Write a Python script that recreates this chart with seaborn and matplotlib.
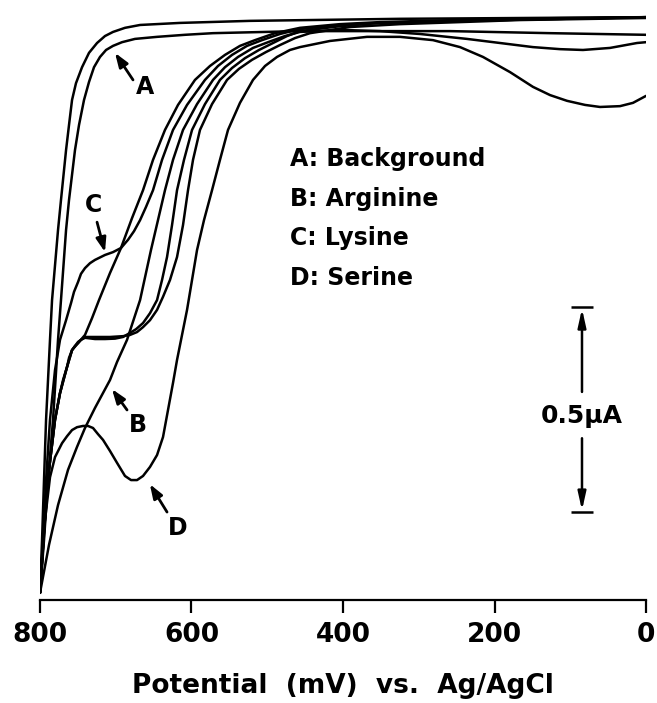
import numpy as np
import pandas as pd
import matplotlib
matplotlib.use("Agg")
import matplotlib.pyplot as plt
import seaborn as sns

# ---------------- data (potential in mV, current in uA; anodic current plotted downward) -------------
# A: Background
a_fwd_mv = [0, 126.7, 258.7, 456.8, 571.6, 608.6, 645.5, 674.6, 691.7, 703.6, 712.8, 720.8, 728.7,
            735.3, 741.9, 748.5, 753.8, 761.7, 765.6, 772.3, 776.2, 782.8, 789.4, 794.7, 800]
a_fwd_ua = [-0.041, -0.037, -0.032, -0.032, -0.037, -0.041, -0.046, -0.051, -0.059, -0.068, -0.078,
            -0.095, -0.120, -0.156, -0.200, -0.261, -0.322, -0.444, -0.517, -0.688, -0.785, -0.980,
            -1.127, -1.273, -1.402]
a_rev_mv = [800, 797.3, 794.7, 792.0, 786.8, 784.1, 776.2, 772.3, 765.6, 761.7, 757.7, 752.5, 744.5,
            735.3, 724.7, 714.2, 703.6, 687.8, 667.9, 615.2, 522.8, 324.7, 0]
a_rev_ua = [-1.402, -1.273, -1.127, -0.980, -0.785, -0.688, -0.517, -0.444, -0.322, -0.261, -0.200,
            -0.159, -0.120, -0.085, -0.061, -0.044, -0.034, -0.024, -0.017, -0.012, -0.007, -0.002,
            0.002]

# B: Arginine
b_fwd_mv = [0, 192.7, 351.1, 404.0, 456.8, 473.9, 492.4, 510.9, 529.4, 546.5, 562.4, 582.2, 599.3,
            609.9, 619.1, 625.7, 632.3, 638.9, 645.5, 654.8, 664.0, 673.2, 681.2, 690.4, 701.0,
            714.2, 727.4, 740.6, 745.9, 749.8, 753.8, 757.7, 761.7, 764.3, 769.6, 773.6, 780.2,
            788.1, 794.7, 800]
b_fwd_ua = [0.002, -0.005, -0.012, -0.020, -0.032, -0.044, -0.061, -0.078, -0.098, -0.122, -0.151,
            -0.210, -0.273, -0.346, -0.420, -0.505, -0.583, -0.639, -0.688, -0.720, -0.744, -0.759,
            -0.768, -0.778, -0.782, -0.783, -0.783, -0.780, -0.785, -0.793, -0.800, -0.810, -0.829,
            -0.851, -0.883, -0.915, -0.980, -1.102, -1.249, -1.402]
b_rev_mv = [800, 794.7, 788.1, 780.2, 773.6, 764.3, 757.7, 749.8, 740.6, 731.3, 722.1, 707.6, 693.1,
            678.5, 664.0, 650.8, 635.0, 617.8, 595.4, 575.6, 555.8, 536.0, 516.2, 489.8, 456.8,
            404.0, 351.1, 192.7, 0]
b_rev_ua = [-1.402, -1.249, -1.102, -0.980, -0.915, -0.851, -0.810, -0.793, -0.773, -0.732, -0.688,
            -0.622, -0.561, -0.488, -0.420, -0.346, -0.273, -0.212, -0.151, -0.117, -0.090, -0.068,
            -0.054, -0.037, -0.024, -0.015, -0.010, -0.002, 0.002]

# C: Lysine
c_fwd_mv = [0, 192.7, 351.1, 404.0, 456.8, 483.2, 506.9, 526.7, 546.5, 565.0, 582.2, 605.9, 624.4,
            638.9, 650.8, 660.1, 667.9, 675.9, 683.8, 693.1, 703.6, 714.2, 727.4, 734.0, 740.6,
            745.9, 749.8, 755.1, 759.0, 765.6, 773.6, 780.2, 786.8, 792.0, 796.0, 800]
c_fwd_ua = [0.002, -0.005, -0.012, -0.017, -0.027, -0.039, -0.054, -0.068, -0.090, -0.117, -0.151,
            -0.212, -0.273, -0.346, -0.420, -0.461, -0.493, -0.520, -0.541, -0.561, -0.571, -0.578,
            -0.590, -0.598, -0.610, -0.624, -0.644, -0.668, -0.695, -0.737, -0.785, -0.859, -0.980,
            -1.127, -1.273, -1.402]
c_rev_mv = [800, 794.7, 788.1, 780.2, 773.6, 764.3, 757.7, 749.8, 740.6, 727.4, 707.6, 690.4, 681.2,
            671.9, 664.0, 654.8, 645.5, 637.6, 628.4, 619.1, 611.2, 604.6, 598.0, 588.8, 572.9,
            553.1, 537.3, 520.1, 501.6, 483.2, 463.4, 443.6, 390.7, 324.7, 166.3, 0]
c_rev_ua = [-1.402, -1.249, -1.102, -0.980, -0.915, -0.851, -0.810, -0.790, -0.778, -0.778, -0.778,
            -0.776, -0.773, -0.766, -0.754, -0.737, -0.712, -0.680, -0.639, -0.583, -0.505, -0.420,
            -0.346, -0.273, -0.210, -0.151, -0.124, -0.102, -0.083, -0.066, -0.049, -0.037, -0.022,
            -0.015, -0.005, 0.0]

# D: Serine
d_fwd_mv = [0, 17.2, 34.3, 60.7, 80.5, 104.3, 126.7, 149.2, 179.5, 215.2, 245.5, 281.2, 324.7, 368.3,
            417.2, 456.8, 470.0, 487.1, 502.9, 518.8, 536.0, 551.8, 562.4, 572.9, 583.5, 592.7,
            599.3, 605.9, 612.5, 619.1, 624.4, 631.0, 637.6, 645.5, 654.8, 664.0, 671.9, 679.8,
            687.8, 698.3, 707.6, 716.8, 723.4, 730.0, 736.6, 743.2, 751.1, 757.7, 764.3, 770.9,
            780.2, 786.8, 793.4, 800]
d_fwd_ua = [-0.190, -0.207, -0.215, -0.217, -0.212, -0.202, -0.188, -0.168, -0.132, -0.095, -0.071,
            -0.054, -0.046, -0.046, -0.056, -0.071, -0.078, -0.095, -0.117, -0.151, -0.207, -0.273,
            -0.346, -0.420, -0.493, -0.566, -0.639, -0.712, -0.773, -0.834, -0.890, -0.956, -1.022,
            -1.066, -1.095, -1.117, -1.127, -1.127, -1.117, -1.085, -1.056, -1.029, -1.015, -1.000,
            -0.995, -0.995, -0.998, -1.005, -1.020, -1.037, -1.071, -1.120, -1.224, -1.402]
d_rev_mv = [800, 788.1, 776.2, 763.0, 751.1, 740.6, 727.4, 707.6, 698.3, 685.1, 667.9, 653.5, 635.0,
            624.4, 611.2, 592.7, 571.6, 555.8, 538.6, 518.8, 499.0, 476.6, 456.8, 404.0, 351.1,
            298.3, 236.3, 192.7, 149.2, 113.5, 83.2, 47.5, 11.9, 0]
d_rev_ua = [-1.402, -1.285, -1.188, -1.102, -1.046, -1.000, -0.951, -0.883, -0.839, -0.785, -0.688,
            -0.566, -0.420, -0.346, -0.273, -0.210, -0.151, -0.120, -0.095, -0.073, -0.059, -0.044,
            -0.034, -0.029, -0.032, -0.039, -0.051, -0.061, -0.071, -0.076, -0.078, -0.073, -0.061,
            -0.059]

legend_labels = ["A: Background", "B: Arginine", "C: Lysine", "D: Serine"]
x_ticks = [800, 600, 400, 200, 0]
x_label = "Potential  (mV)  vs.  Ag/AgCl"
scale_label = "0.5μA"
scale_span = [-0.705, -1.205]

# ---------------- build long-form table ----------------
branches = {
    "A_fwd": (a_fwd_mv, a_fwd_ua), "A_rev": (a_rev_mv, a_rev_ua),
    "B_fwd": (b_fwd_mv, b_fwd_ua), "B_rev": (b_rev_mv, b_rev_ua),
    "C_fwd": (c_fwd_mv, c_fwd_ua), "C_rev": (c_rev_mv, c_rev_ua),
    "D_fwd": (d_fwd_mv, d_fwd_ua), "D_rev": (d_rev_mv, d_rev_ua),
}
frames = []
for name, (mv, ua) in branches.items():
    assert len(mv) == len(ua), name
    frames.append(pd.DataFrame({"potential": mv, "current": ua, "trace": name}))
df = pd.concat(frames, ignore_index=True)

# ---------------- plot ----------------
sns.set_theme(style="white")
plt.rcParams["font.family"] = ["DejaVu Sans"]
plt.rcParams["font.weight"] = "bold"
plt.rcParams["text.color"] = "black"
plt.rcParams["axes.labelcolor"] = "black"
plt.rcParams["xtick.color"] = "black"

fig = plt.figure(figsize=(6.57, 7.03), dpi=100)
ax = fig.add_axes([40 / 657, 103 / 703, 606 / 657, 590 / 703])

sns.lineplot(data=df, x="potential", y="current", units="trace", estimator=None, sort=False,
             color="black", linewidth=1.8, ax=ax, legend=False)
for ln in ax.get_lines():
    ln.set_solid_joinstyle("round")
    ln.set_solid_capstyle("round")

ax.set_xlim(800, 0)
ax.set_ylim(-1.4195, 0.0195)

for s in ["left", "right", "top"]:
    ax.spines[s].set_visible(False)
ax.spines["bottom"].set_linewidth(1.6)
ax.spines["bottom"].set_color("black")
ax.set_yticks([])
ax.set_ylabel("")
ax.set_xticks(x_ticks)
ax.set_xticklabels([str(t) for t in x_ticks], fontsize=19, fontweight="bold", color="black")
ax.tick_params(axis="x", direction="out", length=9, width=1.6, pad=7, colors="black",
               bottom=True)
ax.set_xlabel(x_label, fontsize=19, fontweight="bold", labelpad=18, color="black")

# legend text block
for i, lab in enumerate(legend_labels):
    ax.text(470.5, -0.344 - i * 0.0965, lab, fontsize=17, fontweight="bold",
            ha="left", va="center", color="black")

# curve labels with arrows
arrow_kw = dict(arrowstyle="-|>,head_length=0.7,head_width=0.25", lw=2.0, color="black",
                shrinkA=0, shrinkB=0)
labels = [("A", (661.4, -0.168), (677.2, -0.151), (701.0, -0.085)),
          ("C", (730.0, -0.456), (724.7, -0.498), (714.2, -0.571)),
          ("B", (670.6, -0.993), (685.1, -0.956), (705.0, -0.905)),
          ("D", (617.8, -1.244), (632.3, -1.205), (655.0, -1.137))]
for lab, txy, tail, tip in labels:
    ax.text(txy[0], txy[1], lab, fontsize=17, fontweight="bold", ha="center", va="center",
            color="black")
    ax.annotate("", xy=tip, xytext=tail, arrowprops=arrow_kw)

# scale bar
bx = 84.5
ax.hlines(scale_span, bx - 14.5, bx + 14.5, color="black", lw=1.8)
ax.text(bx, -0.971, scale_label, fontsize=18, fontweight="bold", ha="center", va="center",
        color="black")
bar_kw = dict(arrowstyle="-|>,head_length=0.9,head_width=0.2", lw=1.8, color="black",
              shrinkA=0, shrinkB=0)
ax.annotate("", xy=(bx, scale_span[0] - 0.004), xytext=(bx, -0.912), arrowprops=bar_kw)
ax.annotate("", xy=(bx, scale_span[1] + 0.004), xytext=(bx, -1.025), arrowprops=bar_kw)

fig.savefig("out.png", dpi=100, facecolor="white")
